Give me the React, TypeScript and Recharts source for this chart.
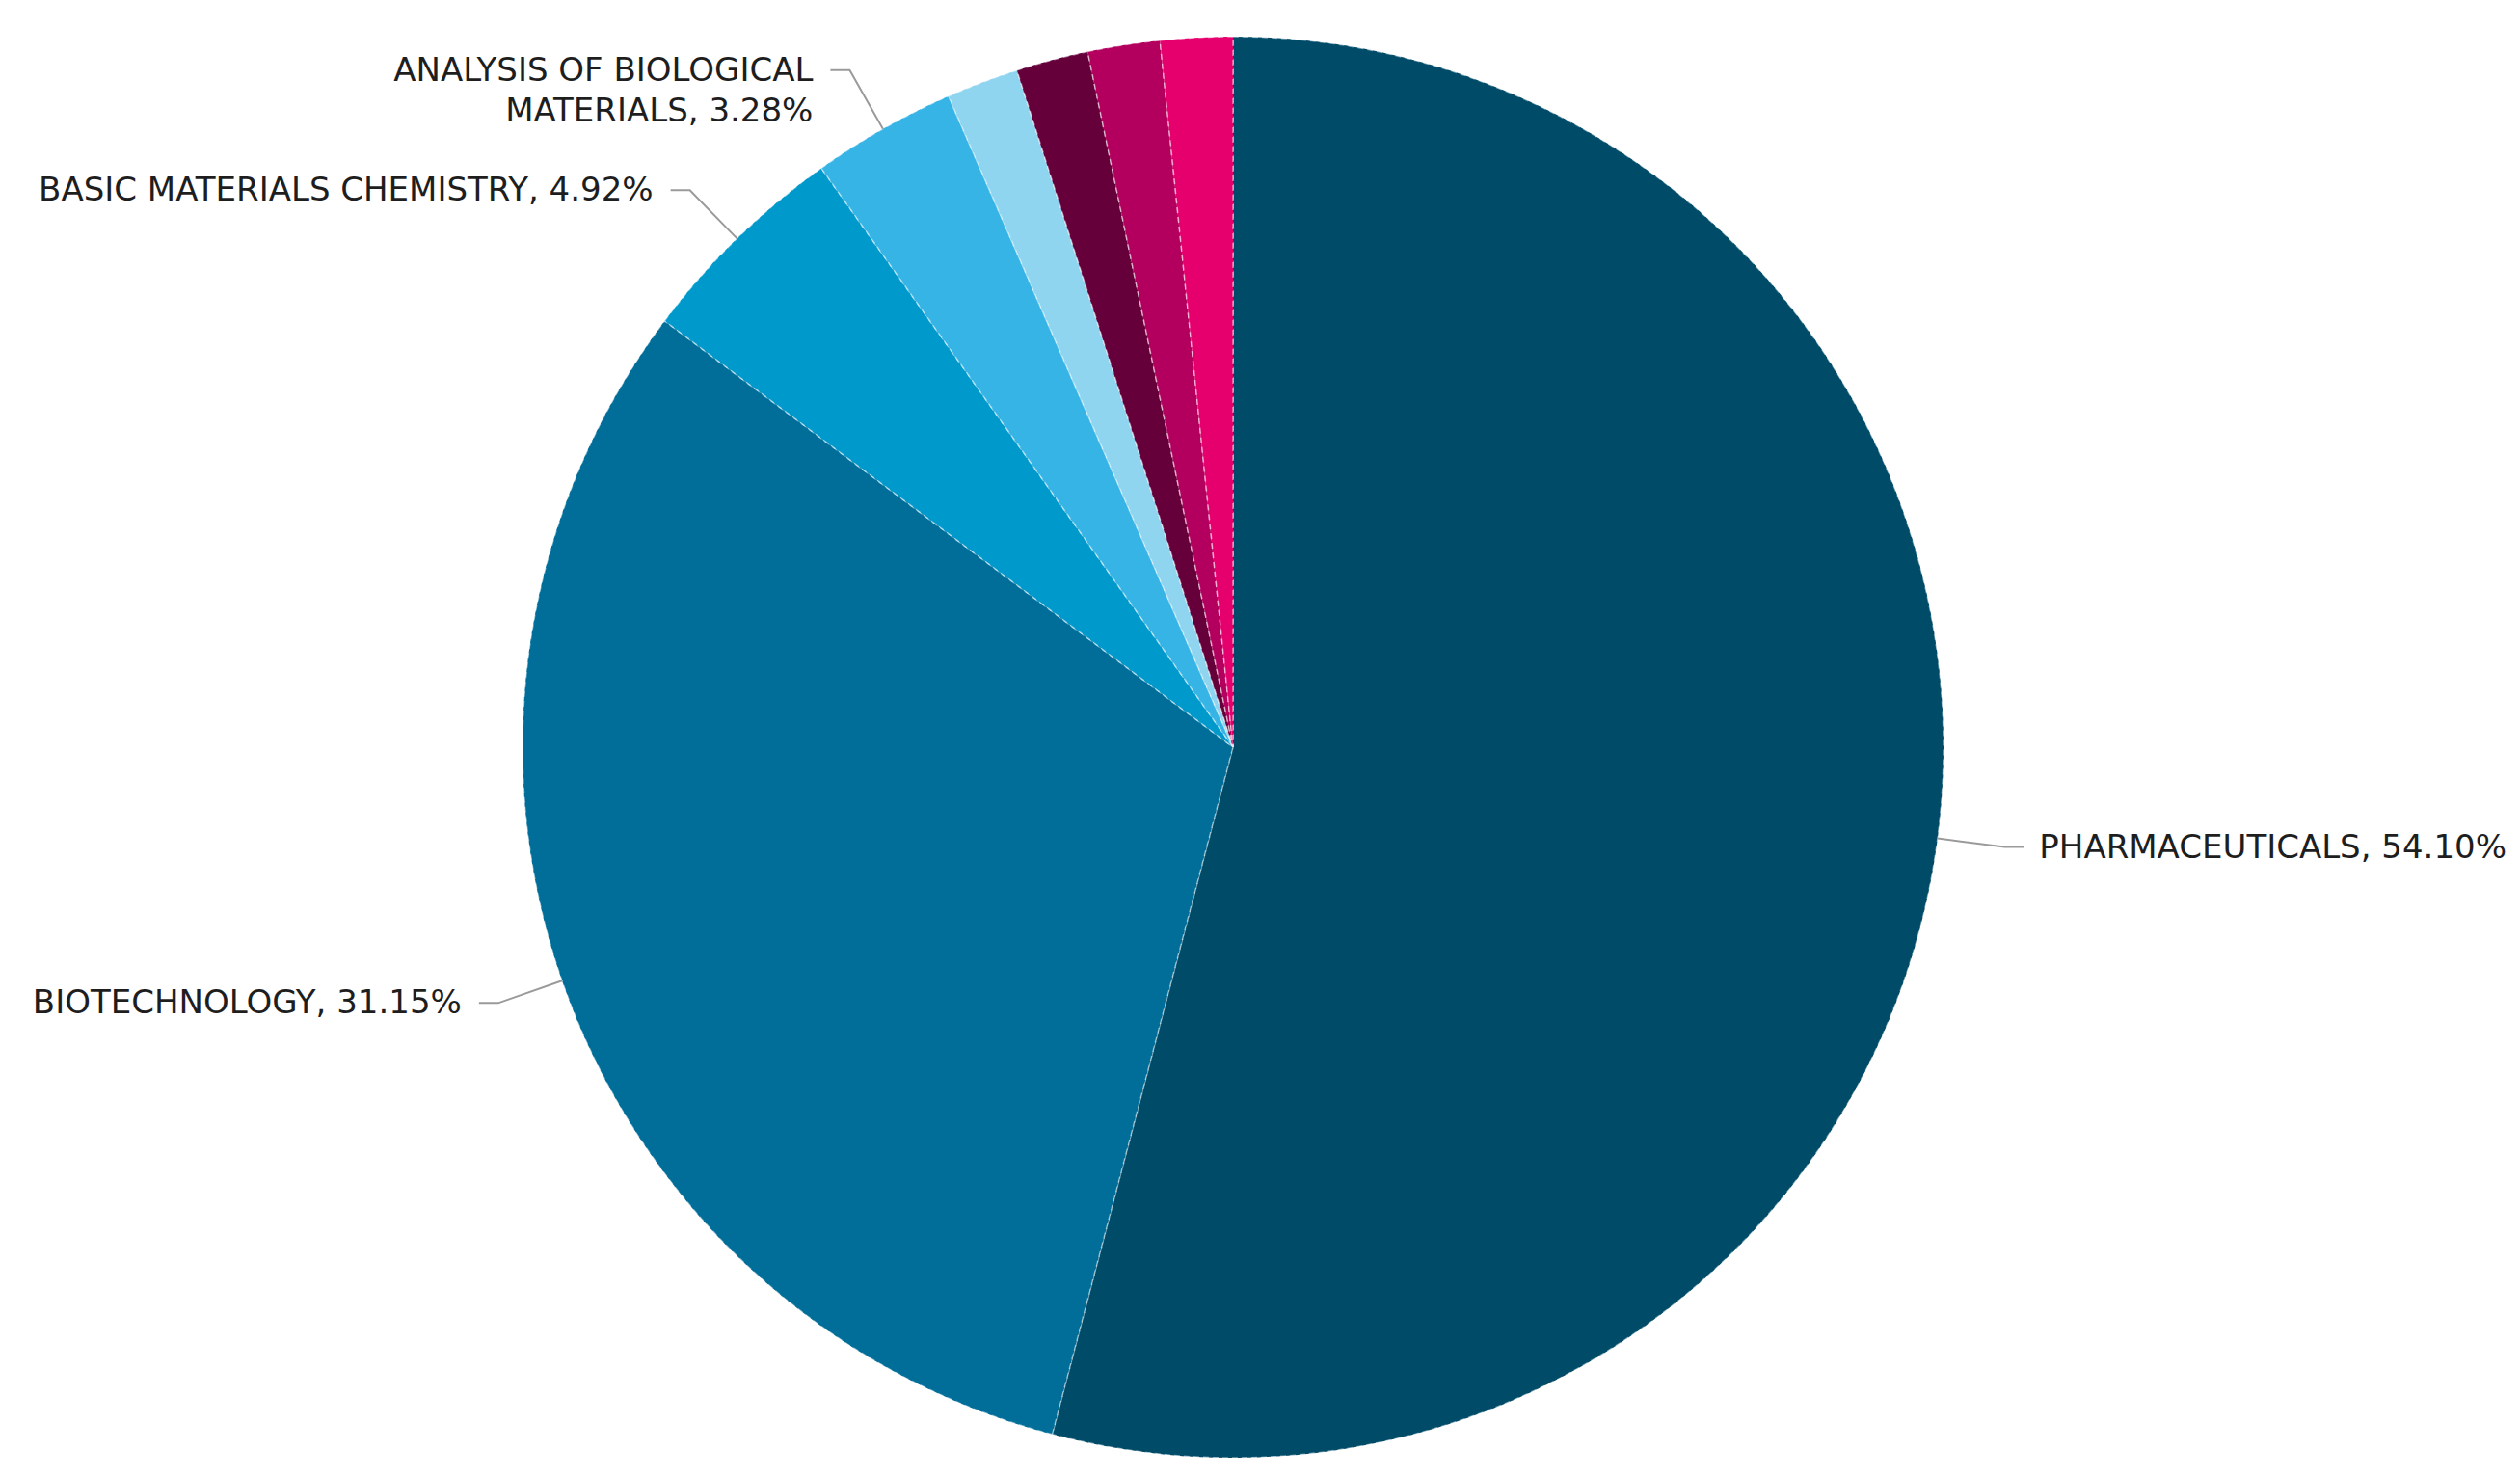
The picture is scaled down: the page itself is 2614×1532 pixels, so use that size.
import { PieChart, Pie, Cell } from 'recharts';

const categories = [
    'PHARMACEUTICALS',
    'BIOTECHNOLOGY',
    'BASIC MATERIALS CHEMISTRY',
    'ANALYSIS OF BIOLOGICAL\nMATERIALS',
    'OTHER A',
    'OTHER B',
    'OTHER C',
    'OTHER D'
];
const shares = [54.10, 31.15, 4.92, 3.28, 1.64, 1.64, 1.64, 1.64];
const showLabel = [true, true, true, true, false, false, false, false];
const colors = ['#004b68', '#006e99', '#0099cc', '#36b4e6', '#90d5f0', '#66003a', '#b3005e', '#e6006e'];

const pieData = categories.map((name, i) => ({ name, value: shares[i], show: showLabel[i] }));

const RADIAN = Math.PI / 180;

const renderLabel = (props: any) => {
    const { cx, cy, midAngle, outerRadius, payload, index } = props;
    const item = payload && payload.name !== undefined ? payload : pieData[index];
    if (!item || !item.show) return null;
    const cos = Math.cos(-midAngle * RADIAN);
    const sin = Math.sin(-midAngle * RADIAN);
    const sx = cx + outerRadius * cos;
    const sy = cy + outerRadius * sin;
    const ex = cx + (outerRadius + 70) * cos;
    const ey = cy + (outerRadius + 70) * sin;
    const right = cos >= 0;
    const hx = ex + (right ? 20 : -20);
    const tx = hx + (right ? 16 : -18);
    const lines = (item.name + ', ' + item.value.toFixed(2) + '%').split('\n');
    return (
        <g>
            <polyline points={`${sx},${sy} ${ex},${ey} ${hx},${ey}`} fill='none' stroke='#9a9a9a' strokeWidth={2} />
            <text x={tx} y={ey} textAnchor={right ? 'start' : 'end'} fill='#1e1e1e'
                fontFamily='"DejaVu Sans", Verdana, sans-serif' fontSize={34}>
                {lines.map((l: string, i: number) => (
                    <tspan key={i} x={tx} dy={i === 0 ? 11 : 42}>{l}</tspan>
                ))}
            </text>
        </g>
    );
};

const App = () => {
    return (
        <PieChart width={2600} height={1516}>
            <Pie
                data={pieData}
                dataKey='value'
                nameKey='name'
                cx={1266}
                cy={762}
                outerRadius={737}
                startAngle={90}
                endAngle={-270}
                label={renderLabel}
                labelLine={false}
                isAnimationActive={false}
                stroke='#ffffff'
                strokeWidth={1.5}
                strokeOpacity={0.5}
                strokeDasharray='6 4'
            >
                {pieData.map((d, i) => (
                    <Cell key={d.name} fill={colors[i]} />
                ))}
            </Pie>
        </PieChart>
    );
};

export default App;
